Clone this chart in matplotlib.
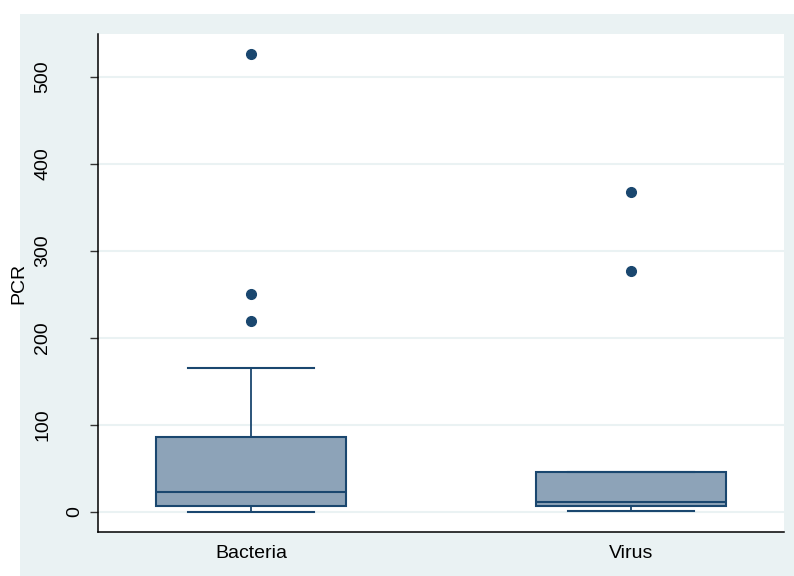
"""
Box plot of PCR by infection type, drawn in a Stata-like style.
"""
import matplotlib
matplotlib.use('Agg')
import matplotlib.pyplot as plt
from matplotlib.patches import Rectangle

# Summary statistics per group
groups = ['Bacteria', 'Virus']
q1 = [6.9, 7.2]
median = [22.6, 11.1]
q3 = [85.8, 45.6]
whisker_low = [0.0, 0.8]
whisker_high = [165.0, 46.3]
outliers = [[525.7, 250.4, 219.4], [367.2, 276.8]]

y_ticks = [0, 100, 200, 300, 400, 500]

NAVY = '#1A476F'
BOX_FILL = '#8DA3B8'
BG = '#EAF2F3'

plt.rcParams['font.family'] = ['Liberation Sans', 'DejaVu Sans']

fig = plt.figure(figsize=(7.94, 5.76), dpi=100)
fig.patch.set_facecolor('white')

# Light outer panel behind the plot region
fig.patches.append(Rectangle((20 / 794, 0), 1 - 20 / 794, (576 - 14) / 576,
                             transform=fig.transFigure, facecolor=BG,
                             edgecolor='none', zorder=-10))

ax = fig.add_axes([98 / 794, 44 / 576, 686 / 794, 498 / 576])
ax.set_facecolor('white')

stats = []
for i, name in enumerate(groups):
    stats.append(dict(label=name, q1=q1[i], med=median[i], q3=q3[i],
                      whislo=whisker_low[i], whishi=whisker_high[i],
                      fliers=outliers[i]))

positions = list(range(1, len(groups) + 1))
ax.bxp(stats, positions=positions, widths=0.5, capwidths=0.33,
       patch_artist=True, showfliers=True,
       boxprops=dict(facecolor=BOX_FILL, edgecolor=NAVY, linewidth=1.5),
       medianprops=dict(color=NAVY, linewidth=1.5),
       whiskerprops=dict(color=NAVY, linewidth=1.3),
       capprops=dict(color=NAVY, linewidth=1.5),
       flierprops=dict(marker='o', markerfacecolor=NAVY, markeredgecolor=NAVY,
                       markersize=7, linestyle='none'))

ax.set_xlim(0.5974, 2.4026)
ax.set_ylim(-22.97, 549.0)

ax.set_yticks(y_ticks)
ax.set_yticklabels([str(t) for t in y_ticks], rotation=90, va='center', fontsize=14)
ax.yaxis.grid(True, color=BG, linewidth=1.5)
ax.set_axisbelow(True)
ax.tick_params(axis='y', length=5.8, width=1, color='#333333', pad=28)
# the single-digit label sits close to its tick
ax.yaxis.get_major_ticks()[0].set_pad(4.5)

ax.tick_params(axis='x', length=0, pad=9, labelsize=14)

ax.set_ylabel('PCR', fontsize=14)
ax.yaxis.set_label_coords(-0.1035, 0.5)

for side in ['top', 'right']:
    ax.spines[side].set_visible(False)
for side in ['left', 'bottom']:
    ax.spines[side].set_color('black')
    ax.spines[side].set_linewidth(1.1)

fig.savefig('out.png', dpi=100)
